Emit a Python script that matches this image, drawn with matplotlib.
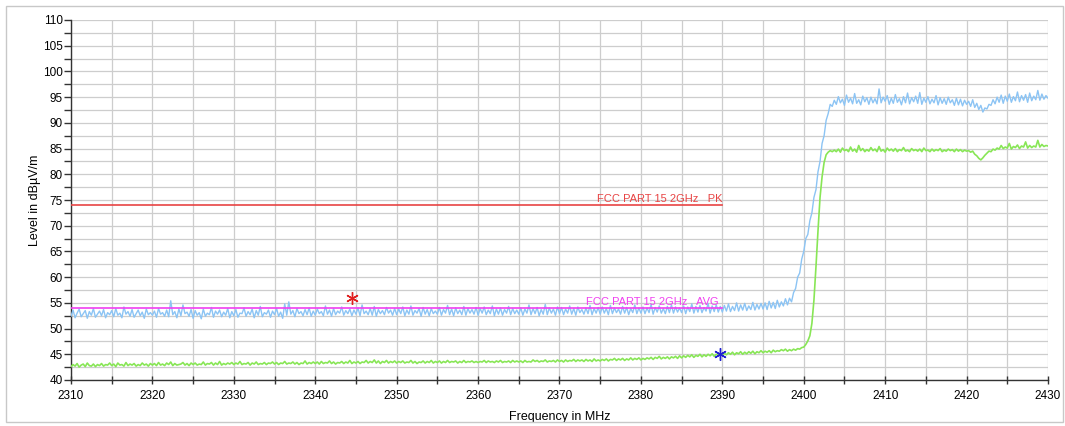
import numpy as np
import matplotlib
matplotlib.use("Agg")
import matplotlib.pyplot as plt
from matplotlib.patches import Rectangle

plt.rcParams['font.family'] = ['Liberation Sans', 'DejaVu Sans']

# ---- data (0.25 MHz spacing, 2310 .. 2430 MHz) ----
freq_start, freq_stop, freq_step = 2310.0, 2430.0, 0.25

peak_trace = [
    # 2310 - 2397.75
    52.4, 53.6, 52.1, 53.0, 53.8, 52.3, 52.9, 53.5, 52.0, 53.3, 52.6, 53.9, 52.2, 52.8, 53.4, 52.5, 53.7, 52.1, 53.1, 52.7,
    53.5, 52.3, 53.9, 52.6, 53.0, 52.1, 54.2, 52.8, 53.3, 52.4, 53.7, 52.2, 52.9, 53.6, 52.5, 53.2, 52.0, 53.8, 52.7, 53.1,
    52.6, 53.4, 52.2, 53.9, 52.8, 53.1, 52.4, 53.6, 52.3, 55.4, 52.7, 53.3, 52.1, 53.8, 52.5, 54.6, 52.9, 53.2, 52.4, 53.7,
    52.0, 53.5, 52.6, 53.1, 51.9, 53.8, 52.4, 53.0, 52.7, 54.1, 52.2, 53.4, 52.8, 53.6, 52.3, 53.2, 52.6, 53.9, 52.1, 53.3,
    52.5, 53.7, 52.2, 53.0, 52.9, 54.0, 52.4, 53.3, 52.7, 53.8, 52.1, 53.5, 52.6, 54.3, 52.3, 53.1, 52.8, 53.6, 52.2, 53.4,
    52.7, 53.9, 52.4, 53.2, 52.0, 54.8, 52.6, 55.2, 52.8, 53.5, 52.3, 53.9, 52.9, 53.3, 52.5, 53.7, 52.7, 54.0, 52.4, 53.4,
    52.6, 53.8, 52.9, 53.3, 52.5, 54.4, 52.8, 53.6, 52.4, 53.9, 52.7, 53.4, 53.0, 54.2, 52.6, 53.5, 52.9, 53.8, 52.5, 53.6,
    52.8, 54.0, 52.5, 54.6, 52.9, 53.4, 52.7, 53.9, 52.6, 54.3, 52.4, 53.7, 52.9, 53.5, 52.7, 54.1, 53.0, 53.6, 52.6, 53.9,
    52.7, 53.8, 52.9, 54.2, 52.5, 53.6, 52.8, 54.4, 52.6, 53.5, 53.0, 53.9, 52.4, 54.1, 52.8, 53.7, 52.5, 53.9, 52.9, 53.4,
    52.8, 54.1, 52.6, 53.7, 53.0, 54.5, 52.7, 53.8, 52.5, 54.0, 52.9, 53.6, 52.7, 54.3, 52.6, 53.9, 53.0, 53.7, 52.8, 54.1,
    52.6, 53.9, 53.0, 54.2, 52.7, 53.6, 52.9, 54.4, 52.5, 53.8, 52.8, 54.0, 52.6, 53.7, 53.0, 54.3, 52.7, 53.9, 52.9, 53.6,
    52.8, 54.0, 52.6, 53.8, 53.0, 54.6, 52.7, 53.9, 52.9, 54.1, 52.5, 53.7, 52.8, 54.7, 52.7, 54.0, 53.0, 53.8, 52.6, 54.2,
    52.9, 54.1, 52.7, 53.8, 53.0, 54.4, 52.8, 53.9, 52.6, 54.2, 53.1, 53.7, 52.8, 54.0, 52.9, 54.5, 52.7, 53.9, 53.0, 54.1,
    52.8, 54.2, 53.0, 53.9, 52.7, 54.5, 52.9, 54.0, 53.1, 53.8, 52.8, 54.3, 53.0, 54.1, 52.7, 53.9, 53.1, 54.6, 52.9, 54.0,
    53.0, 54.2, 52.9, 54.0, 53.1, 54.7, 52.8, 54.1, 53.2, 54.4, 53.0, 53.9, 52.9, 54.3, 53.1, 54.6, 53.0, 54.2, 53.2, 54.0,
    53.1, 54.4, 52.9, 54.2, 53.3, 54.8, 53.0, 54.3, 53.2, 54.5, 53.1, 54.1, 53.4, 54.9, 53.0, 54.4, 53.3, 54.6, 53.2, 54.3,
    53.2, 54.5, 53.4, 54.8, 53.3, 54.3, 53.5, 55.0, 53.4, 54.6, 53.6, 54.9, 53.5, 54.4, 53.7, 55.1, 53.6, 54.7, 53.8, 54.9,
    53.8, 55.0, 53.7, 55.3, 54.0, 55.1, 53.9, 55.5, 54.2, 55.2, 54.4, 55.8,
    # 2398 - 2403.75 (rise)
    54.6, 55.9, 55.2, 57.0, 57.8, 60.0, 60.8, 63.5, 65.0, 67.5, 68.3, 71.0,
    72.5, 75.5, 77.0, 80.5, 82.5, 86.0, 87.5, 90.5, 91.8, 93.6, 93.2, 94.4,
    # 2404 - 2430
    93.6, 95.1, 93.9, 94.6, 93.4, 95.4, 94.0, 94.8, 93.7, 95.7, 93.8, 94.5, 93.5, 95.2, 94.1, 94.9, 93.6, 95.0, 93.9, 94.7,
    93.7, 96.6, 93.9, 95.0, 94.2, 95.3, 93.6, 94.8, 93.8, 95.5, 94.0, 94.7, 93.5, 95.1, 93.9, 95.8, 93.7, 94.9, 94.1, 95.2,
    93.8, 95.9, 93.6, 94.8, 94.0, 95.1, 93.7, 94.6, 93.9, 95.3, 93.5, 94.9, 93.8, 94.7, 93.6, 95.0, 93.9, 94.5, 93.4, 94.8,
    93.5, 94.6, 93.3, 94.4, 93.6, 94.2, 93.2, 94.5, 93.0, 93.8, 92.6, 93.4, 92.1, 92.9, 92.7, 93.6, 93.4, 94.5, 93.7, 95.0,
    94.0, 95.4, 93.8, 95.2, 94.2, 95.6, 94.0, 95.1, 94.3, 96.0, 94.1, 95.3, 94.4, 95.5, 94.0, 95.8, 94.3, 95.2, 94.5, 96.3,
    94.4, 95.6, 94.6, 95.3, 94.8,
]

avg_trace = [
    # 2310 - 2397.75
    42.6, 43.0, 42.7, 43.2, 42.5, 42.9, 43.1, 42.6, 43.3, 42.8, 42.7, 43.1, 42.6, 43.0, 42.8, 43.2, 42.7, 43.0, 42.9, 43.3,
    42.8, 43.1, 42.6, 43.3, 42.9, 43.0, 42.7, 43.4, 42.8, 43.1, 42.9, 43.2, 42.7, 43.0, 42.8, 43.3, 42.9, 43.1, 42.7, 43.2,
    42.9, 43.2, 42.8, 43.4, 42.9, 43.1, 42.8, 43.3, 43.0, 43.5, 42.8, 43.2, 42.9, 43.0, 43.1, 43.4, 42.9, 43.2, 42.8, 43.3,
    43.0, 43.3, 42.9, 43.1, 43.0, 43.5, 42.9, 43.2, 43.1, 43.4, 42.9, 43.3, 43.0, 43.6, 42.9, 43.2, 43.0, 43.3, 43.1, 43.4,
    43.0, 43.3, 43.1, 43.6, 43.0, 43.2, 43.1, 43.4, 42.9, 43.3, 43.1, 43.5, 43.0, 43.2, 43.1, 43.4, 43.0, 43.3, 43.2, 43.5,
    43.1, 43.4, 43.0, 43.3, 43.2, 43.6, 43.1, 43.3, 43.2, 43.5, 43.1, 43.4, 43.0, 43.3, 43.2, 43.7, 43.1, 43.4, 43.2, 43.5,
    43.2, 43.5, 43.1, 43.6, 43.2, 43.4, 43.3, 43.7, 43.2, 43.5, 43.1, 43.4, 43.3, 43.6, 43.2, 43.5, 43.3, 43.8, 43.2, 43.5,
    43.3, 43.6, 43.2, 43.5, 43.4, 43.8, 43.3, 43.6, 43.4, 43.9, 43.3, 43.7, 43.2, 43.6, 43.4, 43.8, 43.3, 43.6, 43.4, 43.7,
    43.3, 43.6, 43.4, 43.7, 43.3, 43.5, 43.4, 43.8, 43.3, 43.6, 43.2, 43.5, 43.4, 43.7, 43.3, 43.6, 43.4, 43.8, 43.3, 43.6,
    43.4, 43.7, 43.3, 43.6, 43.4, 43.8, 43.4, 43.6, 43.5, 43.7, 43.3, 43.6, 43.4, 43.8, 43.4, 43.6, 43.5, 43.7, 43.4, 43.6,
    43.4, 43.6, 43.5, 43.8, 43.4, 43.7, 43.5, 43.6, 43.4, 43.7, 43.5, 43.8, 43.4, 43.6, 43.5, 43.7, 43.4, 43.8, 43.5, 43.7,
    43.5, 43.7, 43.4, 43.8, 43.5, 43.6, 43.5, 43.9, 43.6, 43.8, 43.5, 43.7, 43.6, 43.9, 43.5, 43.7, 43.6, 43.8, 43.5, 43.9,
    43.6, 43.8, 43.5, 43.9, 43.6, 43.8, 43.7, 44.0, 43.6, 43.9, 43.7, 43.9, 43.6, 44.0, 43.7, 43.9, 43.6, 44.1, 43.7, 43.9,
    43.7, 44.0, 43.8, 44.1, 43.7, 44.0, 43.9, 44.2, 43.8, 44.1, 43.9, 44.2, 43.8, 44.1, 43.9, 44.3, 43.9, 44.2, 44.0, 44.3,
    43.9, 44.2, 44.0, 44.3, 44.1, 44.4, 44.0, 44.4, 44.2, 44.6, 44.1, 44.4, 44.2, 44.5, 44.1, 44.5, 44.3, 44.6, 44.2, 44.7,
    44.3, 44.7, 44.4, 44.8, 44.5, 44.9, 44.4, 44.8, 44.6, 45.0, 44.5, 44.9, 44.6, 45.0, 44.7, 45.1, 44.6, 45.0, 44.8, 45.2,
    44.8, 45.2, 44.9, 45.3, 45.0, 45.4, 44.9, 45.3, 45.1, 45.5, 45.0, 45.4, 45.1, 45.5, 45.2, 45.6, 45.1, 45.5, 45.3, 45.7,
    45.3, 45.6, 45.4, 45.7, 45.3, 45.8, 45.5, 45.7, 45.6, 45.9, 45.7, 46.0,
    # 2398 - 2403.75 (rise)
    45.6, 45.9, 45.7, 46.0, 45.8, 46.1, 46.0, 46.3, 46.4, 46.9, 47.6, 48.6,
    51.0, 55.5, 62.0, 69.0, 75.5, 79.5, 82.3, 83.8, 84.3, 84.6, 84.4, 84.7,
    # 2404 - 2430
    84.4, 84.9, 84.3, 85.1, 84.6, 84.8, 84.4, 85.3, 84.5, 84.9, 84.3, 85.6, 84.6, 85.0, 84.4, 84.8, 84.5, 85.2, 84.6, 84.9,
    84.4, 85.4, 84.5, 84.8, 84.3, 85.1, 84.6, 84.9, 84.5, 85.0, 84.4, 84.8, 84.6, 85.2, 84.5, 84.7, 84.4, 85.0, 84.6, 84.8,
    84.5, 84.9, 84.4, 85.1, 84.6, 84.7, 84.4, 84.9, 84.5, 84.8, 84.6, 85.0, 84.4, 84.7, 84.5, 84.9, 84.6, 84.8, 84.4, 84.9,
    84.5, 84.8, 84.4, 84.7, 84.5, 84.6, 84.3, 84.5, 83.9, 83.6, 83.1, 82.8, 83.2, 83.7, 84.1, 84.5, 84.4, 84.9, 84.7, 85.1,
    84.9, 85.6, 85.0, 85.3, 85.1, 86.0, 84.9, 85.4, 85.2, 85.7, 85.0, 85.5, 85.3, 86.3, 85.1, 85.6, 85.2, 85.5, 85.3, 86.6,
    85.3, 85.8, 85.4, 85.6, 85.5,
]

limit_pk = 74.0
limit_avg = 54.0
limit_x = [2310, 2390]
limit_pk_label = "FCC PART 15 2GHz   PK"
limit_avg_label = "FCC PART 15 2GHz   AVG"

marker_pk = (2344.5, 56.0)
marker_avg = (2389.7, 45.1)

x_label = "Frequency in MHz"
y_label = "Level in dBµV/m"

# ---- figure ----
freq = np.arange(freq_start, freq_stop + freq_step / 2, freq_step)
if len(peak_trace) != len(freq) or len(avg_trace) != len(freq):
    raise SystemExit(f"length mismatch: freq={len(freq)} peak={len(peak_trace)} avg={len(avg_trace)}")

fig = plt.figure(figsize=(10.65, 4.26), dpi=100)
fig.patches.append(Rectangle((6 / 1065, 4 / 426), 1057 / 1065, 416 / 426,
                             transform=fig.transFigure, fill=False,
                             edgecolor='#c8c8c8', linewidth=1.0))
ax = fig.add_axes([71 / 1065, 1 - 380 / 426, 977 / 1065, 360 / 426])

ax.set_xlim(2310, 2430)
ax.set_ylim(40, 110)
ax.set_xticks(np.arange(2310, 2431, 10))
ax.set_xticks(np.arange(2315, 2430, 10), minor=True)
ax.set_yticks(np.arange(40, 111, 5))
ax.set_yticks(np.arange(42.5, 110, 5), minor=True)
ax.grid(True, which='both', color='#cdcdcd', linewidth=0.9)
ax.set_axisbelow(True)

for s in ['top', 'right']:
    ax.spines[s].set_visible(False)
for s in ['left', 'bottom']:
    ax.spines[s].set_color('#333333')
    ax.spines[s].set_linewidth(1.0)

ax.tick_params(axis='y', which='both', direction='out', length=5, width=1,
               color='#333333', labelsize=8.5, pad=1)
ax.tick_params(axis='x', which='both', direction='inout', length=6, width=1,
               color='#333333', labelsize=8.5, pad=4)

ax.plot(freq, peak_trace, color='#8cc4f4', linewidth=1.0, zorder=3)
ax.plot(freq, avg_trace, color='#88e656', linewidth=1.2, zorder=3)

ax.plot(limit_x, [limit_pk, limit_pk], color='#e84444', linewidth=1.2, zorder=4)
ax.plot(limit_x, [limit_avg, limit_avg], color='#f040f0', linewidth=1.2, zorder=4)
ax.text(2374.6, limit_pk + 0.3, limit_pk_label, color='#e84444', fontsize=8,
        va='bottom', ha='left', zorder=5)
ax.text(2373.3, limit_avg + 0.2, limit_avg_label, color='#f040f0', fontsize=8,
        va='bottom', ha='left', zorder=5)

ax.plot([marker_pk[0]], [marker_pk[1]], marker=(6, 2, 0), markersize=9,
        color='#e02020', markeredgewidth=1.0, linestyle='none', zorder=6)
ax.plot([marker_avg[0]], [marker_avg[1]], marker=(6, 2, 0), markersize=9,
        color='#2020d0', markeredgewidth=1.0, linestyle='none', zorder=6)

ax.set_xlabel(x_label, fontsize=9)
ax.xaxis.set_label_coords(0.5, -0.085)
ax.set_ylabel(y_label, fontsize=9)
ax.yaxis.set_label_coords(-0.031, 0.5)

fig.savefig("out.png", dpi=100)
